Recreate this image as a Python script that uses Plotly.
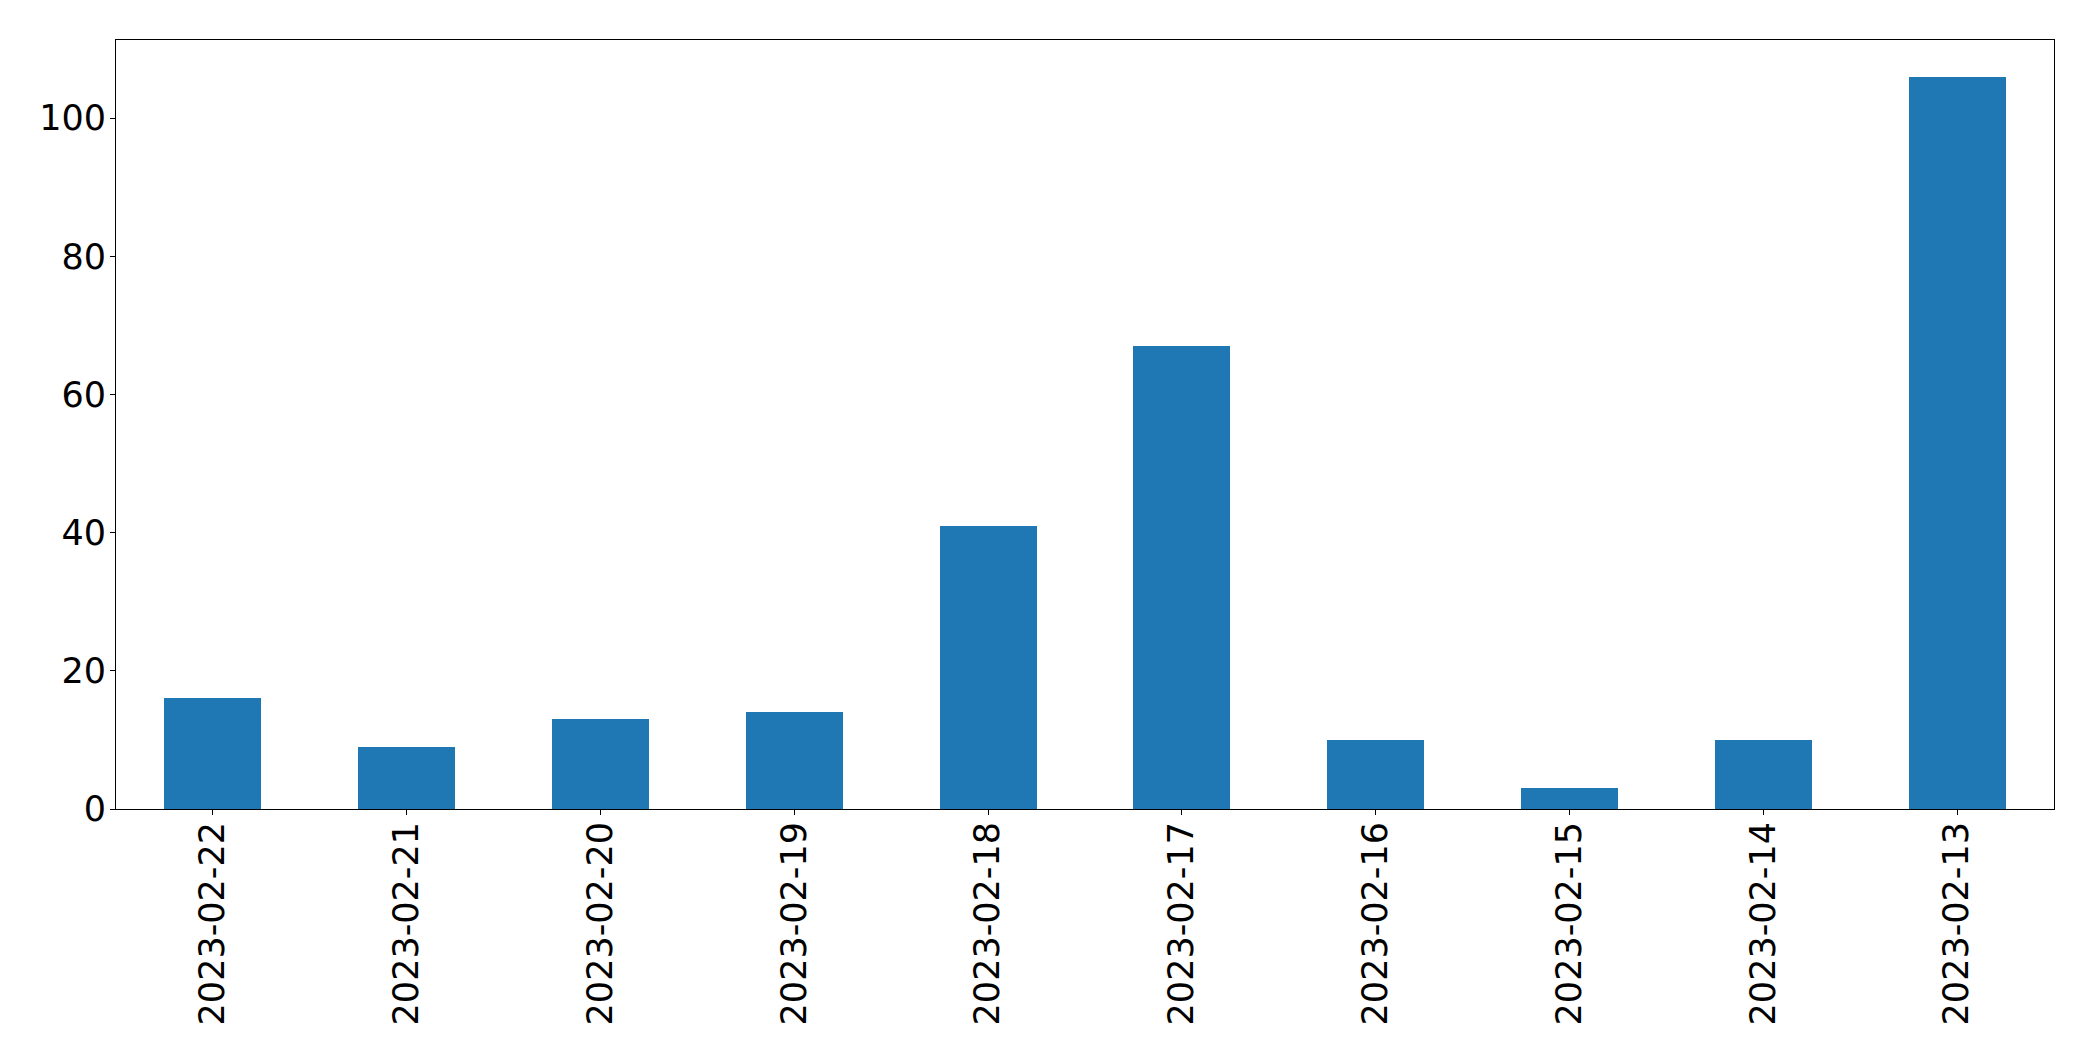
import plotly.graph_objects as go

dates = ["2023-02-22", "2023-02-21", "2023-02-20", "2023-02-19", "2023-02-18",
         "2023-02-17", "2023-02-16", "2023-02-15", "2023-02-14", "2023-02-13"]
counts = [16, 9, 13, 14, 41, 67, 10, 3, 10, 106]
y_ticks = [0, 20, 40, 60, 80, 100]

fig = go.Figure(go.Bar(x=dates, y=counts, width=0.5, marker=dict(color="#1f77b4", line=dict(width=0))))

fig.update_layout(
    width=2085, height=1053,
    margin=dict(l=108, r=39, t=32, b=252),
    paper_bgcolor="white", plot_bgcolor="white",
    font=dict(family="DejaVu Sans", size=35, color="black"),
    showlegend=False,
    bargap=0,
)
fig.update_xaxes(
    type="category", range=[-0.5, len(dates) - 0.5], tickangle=-90,
    showline=True, linecolor="black", linewidth=1, mirror=True,
    ticks="outside", ticklen=5, tickwidth=1, tickcolor="black",
    ticklabelstandoff=-7,
    showgrid=False, zeroline=False,
)
fig.update_yaxes(
    range=[0, max(counts) * 1.05], tickvals=y_ticks,
    showline=True, linecolor="black", linewidth=1, mirror=True,
    ticks="outside", ticklen=5, tickwidth=1, tickcolor="black",
    ticklabelstandoff=-3,
    showgrid=False, zeroline=False,
)
fig.write_html("out.html")
